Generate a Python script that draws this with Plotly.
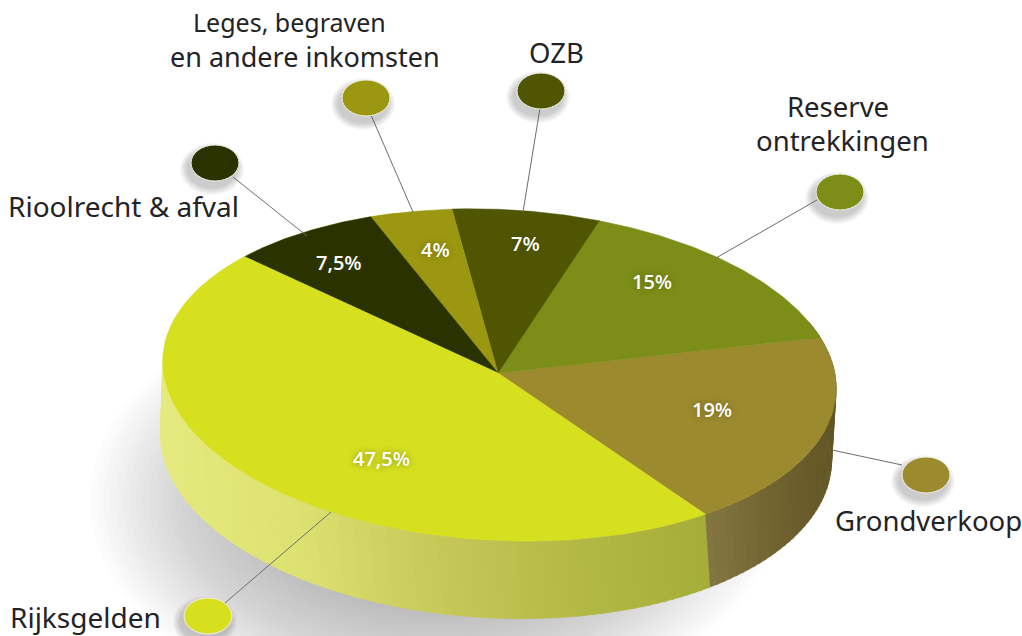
import numpy as np
import plotly.graph_objects as go

# --- data
labels = ["Grondverkoop", "Reserve ontrekkingen", "OZB", "Leges, begraven en andere inkomsten", "Rioolrecht & afval", "Rijksgelden"]
shares = [19, 15, 7, 4, 7.5, 47.5]
share_text = ["19%", "15%", "7%", "4%", "7,5%", "47,5%"]
colors = ["#9C8A2E", "#7C8E18", "#4F5500", "#9C9710", "#2A3300", "#D7E01F"]

# --- drawing parameters
W, H = 1022, 636
CX, CY, A, B = 499.5, 375, 337, 165.5
TILT = np.radians(3.0)
T0 = -51.0
BX, BY, BA, BB = 496, 447, 336, 171
WALL_SKEW = 2.0

def warp(u):
    # perspective foreshortening of the pie's angles
    return u + 1.5 + 1.5 * np.cos(np.radians(u - 100))

def ell(t, cx=CX, cy=CY, a=A, b=B):
    t = np.radians(t)
    px, py = a * np.cos(t), b * np.sin(t)
    return cx + px * np.cos(TILT) + py * np.sin(TILT), cy - py * np.cos(TILT) + px * np.sin(TILT)

def blend(stops, x):
    xs = [s[0] for s in stops]
    return "rgb(%d,%d,%d)" % tuple(np.interp(x, xs, [s[1][i] for s in stops]) for i in range(3))

edges = T0 + np.cumsum([0] + [s * 3.6 for s in shares])
fig = go.Figure()

# ground shadow
n = 30
for i in range(n):
    f = i / (n - 1)
    tt = np.linspace(0, 360, 181)
    sx = 435 + (345 - 190 * f) * np.cos(np.radians(tt))
    sy = 500 + (215 - 120 * f) * np.sin(np.radians(tt))
    fig.add_trace(go.Scatter(x=sx, y=sy, mode="lines", fill="toself", line_width=0,
                             fillcolor="rgba(130,135,140,0.022)", hoverinfo="skip", showlegend=False))

# side wall
RIJK = [(159, (230, 235, 128)), (300, (221, 226, 112)), (430, (200, 202, 90)), (560, (182, 187, 72)), (712, (165, 174, 56))]
GROND = [(708, (133, 119, 66)), (770, (115, 101, 50)), (836, (98, 86, 38))]
t_split = 360 + warp(T0)
grid = np.arange(t_split - 200, t_split, 1.5)
grid2 = np.arange(t_split, t_split + 75, 1.5)
for ts, stops in ((grid, RIJK), (grid2, GROND)):
    for t in ts:
        t2 = min(t + 1.8, t_split) if stops is RIJK else t + 1.8
        x1, y1 = ell(np.array([t, t2]))
        x2, y2 = ell(np.array([t, t2]) + WALL_SKEW, BX, BY, BA, BB)
        mid = (x1.mean() + x2.mean()) / 2
        col = blend(stops, mid)
        fig.add_trace(go.Scatter(x=[x1[0], x1[1], x2[1], x2[0], x1[0]], y=[y1[0], y1[1], y2[1], y2[0], y1[0]],
                                 mode="lines", fill="toself", fillcolor=col, line=dict(color=col, width=0.5),
                                 hoverinfo="skip", showlegend=False))

# top surface
for i, (lab, c) in enumerate(zip(labels, colors)):
    tt = warp(np.linspace(edges[i], edges[i + 1], 80))
    ex, ey = ell(tt)
    fig.add_trace(go.Scatter(x=np.r_[498, ex, 498], y=np.r_[373, ey, 373], mode="lines", fill="toself",
                             fillcolor=c, line=dict(color=c, width=0.5), name=lab,
                             hoverinfo="name", showlegend=False))

# leader lines
leaders = [((902, 465), (832, 450)), ((817, 200), (716, 258)), ((540, 108), (523, 212)),
           ((371, 115), (413, 212)), ((233, 177), (307, 236)), ((225, 603), (331, 512))]
for (x0, y0), (x1, y1) in leaders:
    fig.add_trace(go.Scatter(x=[x0, x1], y=[y0, y1], mode="lines", line=dict(color="#6E6E6E", width=1),
                             hoverinfo="skip", showlegend=False))

# legend dots with soft shadow
dots = [(926, 475), (840, 192), (541, 91), (366, 98), (215, 163), (208, 616)]
for (dx, dy), c in zip(dots, colors):
    for k in range(8):
        g = 8 - k
        fig.add_shape(type="circle", x0=dx - 24 - g - 3, x1=dx + 24 + g - 3, y0=dy - 18 - g + 6, y1=dy + 18 + g + 6,
                      fillcolor="rgba(90,90,95,0.045)", line_width=0, layer="above")
    fig.add_shape(type="circle", x0=dx - 24, x1=dx + 24, y0=dy - 18, y1=dy + 18,
                  fillcolor=c, line=dict(color="#F2F2E6", width=1), layer="above")

# percentages
pct_pos = [(712, 409), (652, 281), (525, 243), (435, 249), (339, 262), (381, 458)]
for (x, y), s in zip(pct_pos, share_text):
    fig.add_annotation(x=x, y=y, text=s, showarrow=False,
                       font=dict(family="Open Sans, sans-serif", size=20, color="white", weight=600,
                                 shadow="0 0 6px rgba(70,70,20,0.55)"))

# category labels
txt = [("Leges, begraven", 289, 22, 25), ("en andere inkomsten", 305, 56, 27), ("OZB", 556, 52, 27.5),
       ("Reserve", 838, 106, 27.5), ("ontrekkingen", 842, 140, 27.5), ("Rioolrecht & afval", 123, 206, 28),
       ("Grondverkoop", 928, 520, 27.5), ("Rijksgelden", 85, 617, 28)]
for s, x, y, sz in txt:
    fig.add_annotation(x=x, y=y, text=s, showarrow=False,
                       font=dict(family="Noto Sans, sans-serif", size=sz, color="#232326"))

fig.update_xaxes(range=[0, W], visible=False, fixedrange=True)
fig.update_yaxes(range=[H, 0], visible=False, fixedrange=True)
fig.update_layout(width=W, height=H, margin=dict(l=0, r=0, t=0, b=0), paper_bgcolor="white", plot_bgcolor="white",
                  showlegend=False)
fig.write_html("out.html", config={"displayModeBar": False},
               post_script="document.body.style.margin='0';document.body.style.overflow='hidden';")
